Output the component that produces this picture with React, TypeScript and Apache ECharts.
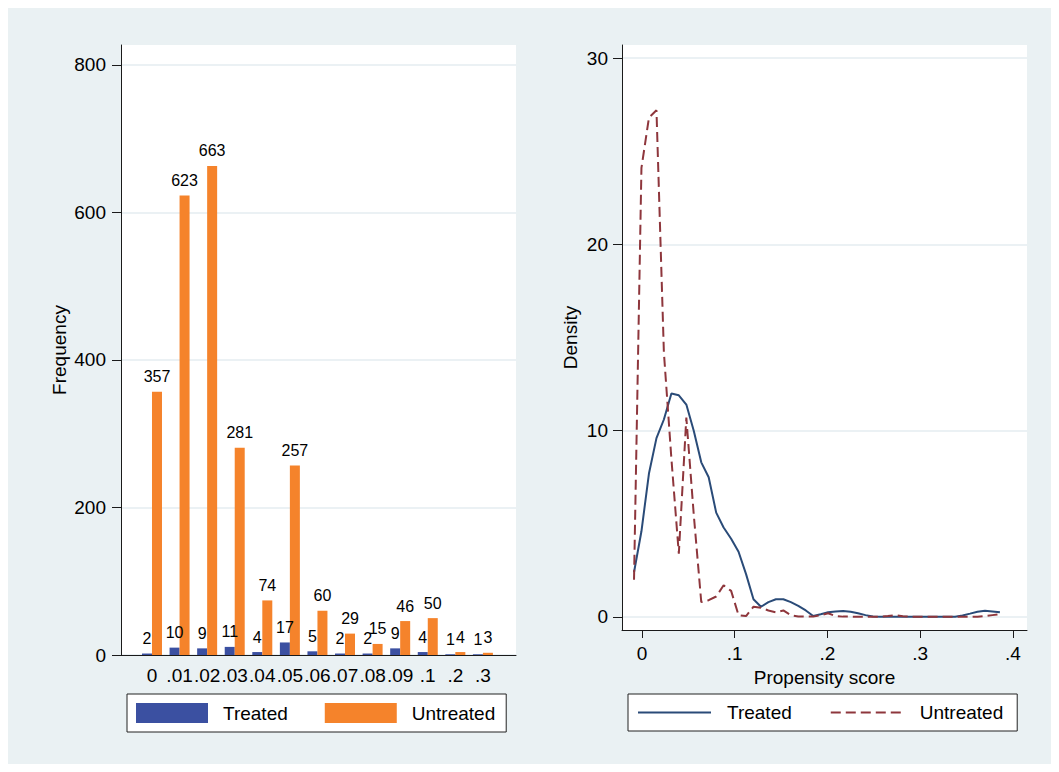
import React, { useEffect, useRef } from 'react';
import * as echarts from 'echarts';

// ---- Left panel: histogram of propensity score bins ----
const categories = ['0', '.01', '.02', '.03', '.04', '.05', '.06', '.07', '.08', '.09', '.1', '.2', '.3'];
const treatedCounts = [2, 10, 9, 11, 4, 17, 5, 2, 2, 9, 4, 1, 1];
const untreatedCounts = [357, 623, 663, 281, 74, 257, 60, 29, 15, 46, 50, 4, 3];
const freqTicks = [0, 200, 400, 600, 800];

// ---- Right panel: kernel densities ----
const scores = [
  -0.0086, -0.0006, 0.0075, 0.0156, 0.0236, 0.0317, 0.0397, 0.0478, 0.0558, 0.0639,
  0.0719, 0.08, 0.088, 0.0961, 0.1041, 0.1122, 0.1202, 0.1283, 0.1363, 0.1444,
  0.1524, 0.1605, 0.1685, 0.1766, 0.1846, 0.1927, 0.2007, 0.2088, 0.2168, 0.2249,
  0.2329, 0.241, 0.249, 0.2571, 0.2651, 0.2732, 0.2812, 0.2893, 0.2973, 0.3054,
  0.3134, 0.3215, 0.3295, 0.3376, 0.3456, 0.3537, 0.3617, 0.3698, 0.3778, 0.3859,
];
const treatedDensity = [
  2.4, 4.6, 7.7, 9.6, 10.6, 12.0, 11.9, 11.4, 10.0, 8.3,
  7.5, 5.6, 4.8, 4.2, 3.5, 2.3, 0.95, 0.55, 0.8, 0.95,
  0.95, 0.8, 0.6, 0.35, 0.05, 0.15, 0.25, 0.3, 0.32, 0.28,
  0.2, 0.1, 0.03, 0.01, 0.01, 0.01, 0.01, 0.01, 0.01, 0.01,
  0.01, 0.01, 0.01, 0.01, 0.08, 0.18, 0.28, 0.33, 0.3, 0.25,
];
const untreatedDensity = [
  2.0, 24.1, 26.8, 27.2, 14.2, 8.5, 3.4, 10.7, 5.5, 0.8,
  0.9, 1.1, 1.7, 1.4, 0.1, 0.05, 0.55, 0.5, 0.35, 0.25,
  0.35, 0.1, 0.03, 0.02, 0.02, 0.1, 0.2, 0.05, 0.02, 0.02,
  0.01, 0.01, 0.01, 0.01, 0.05, 0.1, 0.04, 0.01, 0.01, 0.01,
  0.01, 0.01, 0.01, 0.01, 0.01, 0.01, 0.01, 0.05, 0.1, 0.15,
];
const scoreTicks = [0, 0.1, 0.2, 0.3, 0.4];
const densityTicks = [0, 10, 20, 30];

export default function App() {
  const ref = useRef<HTMLDivElement>(null);

  useEffect(() => {
    const chart = echarts.init(ref.current!, null, { renderer: 'svg' });
    const font = "'Liberation Sans', Arial, Helvetica, sans-serif";
    const axisColor = '#1a1a1a';
    const gridColor = '#e4ecf0';
    const barBlue = '#3b50a1';
    const barOrange = '#f5832b';
    const lineNavy = '#2a4b78';
    const lineMaroon = '#8e363c';
    const txt = { fontSize: 19, color: '#000', fontFamily: font };

    const treatedLine = scores.map((s, i) => [s, treatedDensity[i]]);
    const untreatedLine = scores.map((s, i) => [s, untreatedDensity[i]]);

    chart.setOption({
      animation: false,
      backgroundColor: 'transparent',
      grid: [
        { left: 113, top: 37, width: 395, height: 610, show: true, backgroundColor: '#fff', borderWidth: 0 },
        { left: 130.2, top: 37, width: 358.5, height: 610 },
        { left: 614, top: 37, width: 405, height: 585, show: true, backgroundColor: '#fff', borderWidth: 0 },
      ],
      xAxis: [
        {
          gridIndex: 0, type: 'value', min: 0, max: 1,
          axisLine: { show: true, onZero: false, lineStyle: { color: axisColor, width: 1 } },
          axisTick: { show: false }, axisLabel: { show: false }, splitLine: { show: false },
        },
        {
          gridIndex: 1, type: 'category', data: categories,
          axisLine: { show: false }, axisTick: { show: false }, splitLine: { show: false },
          axisLabel: { interval: 0, margin: 11, ...txt },
        },
        {
          gridIndex: 2, type: 'value', min: -0.02156, max: 0.4151,
          axisLine: { show: true, onZero: false, lineStyle: { color: axisColor, width: 1 } },
          axisTick: { show: true, length: 8, customValues: scoreTicks, lineStyle: { color: axisColor } },
          axisLabel: {
            customValues: scoreTicks, margin: 14, ...txt,
            formatter: (v: number) => (v === 0 ? '0' : String(v).replace(/^0/, '')),
          },
          splitLine: { show: false },
          name: 'Propensity score', nameLocation: 'middle', nameGap: 33, nameTextStyle: txt,
        },
      ],
      yAxis: [
        {
          gridIndex: 0, type: 'value', min: 0, max: 827,
          axisLine: { show: true, onZero: false, lineStyle: { color: axisColor, width: 1 } },
          axisTick: { show: true, length: 9, customValues: freqTicks, lineStyle: { color: axisColor } },
          axisLabel: { customValues: freqTicks, margin: 15, ...txt },
          splitLine: { show: true, lineStyle: { color: gridColor, width: 1.5 } },
          name: 'Frequency', nameLocation: 'middle', nameGap: 52, nameTextStyle: txt,
        },
        { gridIndex: 1, type: 'value', min: 0, max: 827, show: false, splitLine: { show: false } },
        {
          gridIndex: 2, type: 'value', min: -0.698, max: 30.7,
          axisLine: { show: true, onZero: false, lineStyle: { color: axisColor, width: 1 } },
          axisTick: { show: true, length: 9, customValues: densityTicks, lineStyle: { color: axisColor } },
          axisLabel: { customValues: densityTicks, margin: 14, ...txt },
          splitLine: { show: true, lineStyle: { color: gridColor, width: 1.5 } },
          name: 'Density', nameLocation: 'middle', nameGap: 42, nameTextStyle: txt,
        },
      ],
      legend: [
        {
          left: 119, top: 686, orient: 'horizontal', data: ['Treated', 'Untreated'],
          icon: 'rect', itemWidth: 72, itemHeight: 20, itemGap: 37,
          padding: [9, 11, 9, 9], backgroundColor: '#fff', borderColor: '#222', borderWidth: 1,
          selectedMode: false, textStyle: { ...txt, padding: [0, 0, 0, 10] },
        },
        {
          left: 620, top: 686, orient: 'horizontal',
          data: ['Treated ', 'Untreated '],
          formatter: (n: string) => n.trim(),
          itemWidth: 73, itemHeight: 20, itemGap: 38,
          itemStyle: { color: 'rgba(0,0,0,0)', borderWidth: 0, opacity: 0 },
          lineStyle: { opacity: 1, width: 2 },
          padding: [9, 14, 9, 9], backgroundColor: '#fff', borderColor: '#222', borderWidth: 1,
          selectedMode: false, textStyle: { ...txt, padding: [0, 0, 0, 11] },
        },
      ],
      series: [
        {
          type: 'bar', name: 'Treated', xAxisIndex: 1, yAxisIndex: 1, data: treatedCounts,
          barWidth: 10, barGap: '0%', itemStyle: { color: barBlue },
          label: { show: true, position: 'top', distance: 7, fontSize: 16, color: '#000', fontFamily: font },
        },
        {
          type: 'bar', name: 'Untreated', xAxisIndex: 1, yAxisIndex: 1, data: untreatedCounts,
          barWidth: 10, barGap: '0%', itemStyle: { color: barOrange },
          label: { show: true, position: 'top', distance: 7, fontSize: 16, color: '#000', fontFamily: font },
        },
        {
          type: 'line', name: 'Treated ', xAxisIndex: 2, yAxisIndex: 2, data: treatedLine,
          symbol: 'none', itemStyle: { color: lineNavy }, lineStyle: { color: lineNavy, width: 2 },
        },
        {
          type: 'line', name: 'Untreated ', xAxisIndex: 2, yAxisIndex: 2, data: untreatedLine,
          symbol: 'none', itemStyle: { color: lineMaroon },
          lineStyle: { color: lineMaroon, width: 2, type: [10, 5] },
        },
      ],
    });

    return () => chart.dispose();
  }, []);

  return <div ref={ref} style={{ width: 1043, height: 756, background: '#eaf1f3' }} />;
}
